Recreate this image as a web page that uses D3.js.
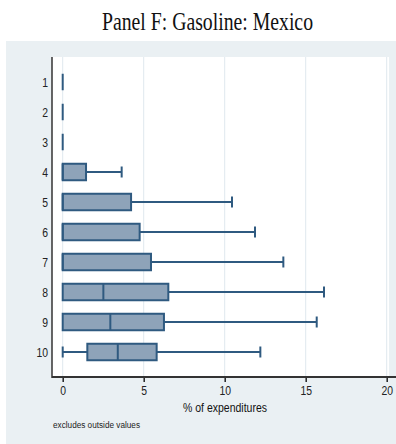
<!DOCTYPE html>
<html>
<head>
<meta charset="utf-8">
<script src="https://cdn.jsdelivr.net/npm/d3@7/dist/d3.min.js"></script>
<style>
  html, body { margin: 0; padding: 0; background: #ffffff; }
  svg { display: block; }
</style>
</head>
<body>
<script>
// Expenditure deciles and their gasoline budget-share box summaries (% of expenditures)
const deciles      = ["1", "2", "3", "4", "5", "6", "7", "8", "9", "10"];
const lowerWhisker = [0, 0, 0, 0, 0, 0, 0, 0, 0, 0];
const lowerQuart   = [0, 0, 0, 0, 0, 0, 0, 0, 0, 1.52];
const medianVal    = [0, 0, 0, 0, 0, 0, 0, 2.51, 2.94, 3.40];
const upperQuart   = [0, 0, 0, 1.44, 4.22, 4.75, 5.45, 6.52, 6.25, 5.80];
const upperWhisker = [0, 0, 0, 3.64, 10.45, 11.87, 13.62, 16.13, 15.68, 12.2];
const xTicks       = [0, 5, 10, 15, 20];

const W = 396, H = 444;
const rows = deciles.map((d, i) => ({
  d, lw: lowerWhisker[i], q1: lowerQuart[i], med: medianVal[i],
  q3: upperQuart[i], uw: upperWhisker[i]
}));

const svg = d3.select("body").append("svg").attr("width", W).attr("height", H);

// graph region background
svg.append("rect").attr("x", 6).attr("y", 41).attr("width", W - 6).attr("height", H - 41)
  .attr("fill", "#eaf0f3");

// plot region
const plot = { left: 52, top: 57, right: 389, bottom: 377 };
svg.append("rect").attr("x", plot.left).attr("y", plot.top)
  .attr("width", plot.right - plot.left).attr("height", plot.bottom - plot.top)
  .attr("fill", "#ffffff");

const x = d3.scaleLinear().domain([0, 20]).range([62.7, 386.7]);
const y = d3.scalePoint().domain(deciles).range([82, 352]);

// title
svg.append("text")
  .attr("x", 102).attr("y", 30)
  .attr("textLength", 211).attr("lengthAdjust", "spacingAndGlyphs")
  .style("font-family", "'Liberation Serif', 'Times New Roman', serif")
  .style("font-size", "26px").attr("fill", "#111")
  .text("Panel F: Gasoline: Mexico");

// vertical gridlines
svg.append("g").selectAll("line").data(xTicks).join("line")
  .attr("x1", d => x(d)).attr("x2", d => x(d))
  .attr("y1", plot.top).attr("y2", plot.bottom)
  .attr("stroke", "#dfe8ee").attr("stroke-width", 1);

// boxes
const stroke = "#2f5a80", fill = "#8ea3b9";
const bh = 16.5, capH = 11;
const g = svg.append("g");
rows.forEach(r => {
  const cy = y(r.d);
  // whiskers
  if (r.uw > r.q3) {
    g.append("line").attr("x1", x(r.q3)).attr("x2", x(r.uw)).attr("y1", cy).attr("y2", cy)
      .attr("stroke", stroke).attr("stroke-width", 2);
    g.append("line").attr("x1", x(r.uw)).attr("x2", x(r.uw)).attr("y1", cy - capH / 2).attr("y2", cy + capH / 2)
      .attr("stroke", stroke).attr("stroke-width", 2);
  }
  if (r.q1 > r.lw) {
    g.append("line").attr("x1", x(r.lw)).attr("x2", x(r.q1)).attr("y1", cy).attr("y2", cy)
      .attr("stroke", stroke).attr("stroke-width", 2);
    g.append("line").attr("x1", x(r.lw)).attr("x2", x(r.lw)).attr("y1", cy - capH / 2).attr("y2", cy + capH / 2)
      .attr("stroke", stroke).attr("stroke-width", 2);
  }
  // interquartile box
  g.append("rect").attr("x", x(r.q1)).attr("y", cy - bh / 2)
    .attr("width", Math.max(0, x(r.q3) - x(r.q1))).attr("height", bh)
    .attr("fill", fill).attr("stroke", stroke).attr("stroke-width", 2);
  // median
  g.append("line").attr("x1", x(r.med)).attr("x2", x(r.med))
    .attr("y1", cy - bh / 2).attr("y2", cy + bh / 2)
    .attr("stroke", stroke).attr("stroke-width", 2);
});

// axes lines
svg.append("line").attr("x1", plot.left).attr("x2", plot.left)
  .attr("y1", plot.top).attr("y2", plot.bottom + 1)
  .attr("stroke", "#333").attr("stroke-width", 1.5);

const xAxis = d3.axisBottom(x).tickValues(xTicks).tickSize(5).tickPadding(4).tickFormat(d3.format("d"));
const xg = svg.append("g").attr("transform", `translate(0,${plot.bottom})`).call(xAxis);
xg.select(".domain").remove();
xg.selectAll(".tick line").attr("stroke", "#222").attr("stroke-width", 1.5);
xg.selectAll(".tick text")
  .style("font-family", "'Liberation Sans', Arial, sans-serif").style("font-size", "13px")
  .attr("fill", "#222")
  .attr("transform", "scale(0.8,1)")
  .attr("x", function () { return 0; });
// keep labels centred under ticks after horizontal squeeze
xg.selectAll(".tick").each(function () {
  d3.select(this).select("text").attr("transform", "scale(0.8,1)");
});
svg.append("line").attr("x1", plot.left).attr("x2", W)
  .attr("y1", plot.bottom).attr("y2", plot.bottom)
  .attr("stroke", "#333").attr("stroke-width", 2);

// category labels
const yAxis = d3.axisLeft(y).tickSize(0).tickPadding(5);
const yg = svg.append("g").attr("transform", `translate(${plot.left},0)`).call(yAxis);
yg.select(".domain").remove();
yg.selectAll(".tick text")
  .style("font-family", "'Liberation Sans', Arial, sans-serif").style("font-size", "13px")
  .attr("fill", "#222")
  .attr("transform", "scale(0.8,1)");

// axis title
svg.append("text")
  .attr("x", 183).attr("y", 412)
  .attr("textLength", 84).attr("lengthAdjust", "spacingAndGlyphs")
  .style("font-family", "'Liberation Sans', Arial, sans-serif").style("font-size", "12px")
  .attr("fill", "#111")
  .text("% of expenditures");

// note
svg.append("text")
  .attr("x", 53).attr("y", 428)
  .attr("textLength", 87).attr("lengthAdjust", "spacingAndGlyphs")
  .style("font-family", "'Liberation Sans', Arial, sans-serif").style("font-size", "8.5px")
  .attr("fill", "#222")
  .text("excludes outside values");
</script>
</body>
</html>
